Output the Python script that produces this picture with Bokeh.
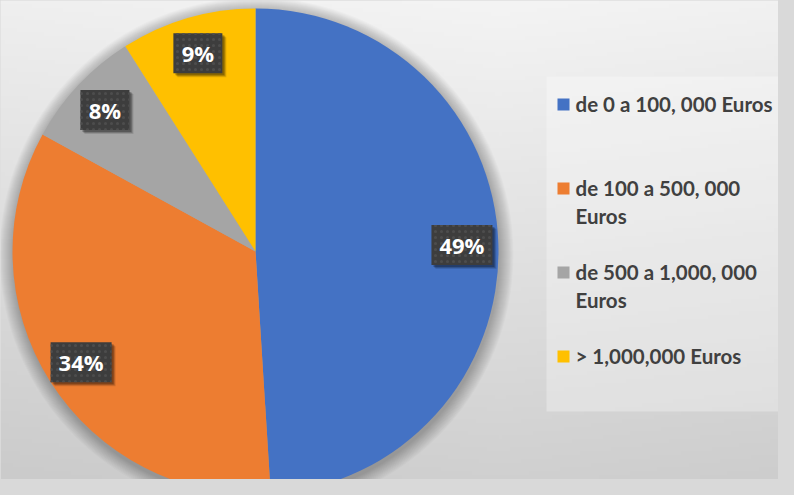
import math
import textwrap
import numpy as np
from bokeh.plotting import figure
from bokeh.models import Range1d, ColumnDataSource
from bokeh.core.properties import value
from bokeh.embed import file_html
from bokeh.resources import INLINE

# ---- data ----
categories = ["de 0 a 100, 000 Euros", "de 100 a 500, 000 Euros",
              "de 500 a 1,000, 000 Euros", "> 1,000,000 Euros"]
shares = [49, 34, 8, 9]
colors = ["#4472C4", "#ED7D31", "#A5A5A5", "#FFC000"]

W, H = 778, 479

def fx(X):
    return X

def fy(Y):
    return H - Y

p = figure(width=W, height=H, x_range=Range1d(0, W), y_range=Range1d(0, H),
           output_backend="svg", toolbar_location=None, min_border=0,
           x_axis_location=None, y_axis_location=None)
p.grid.visible = False
p.outline_line_color = None
p.background_fill_color = "#e6e6e6"
p.border_fill_color = "#e6e6e6"

# ---- background gradient ----
gh, gw = 120, 200
ys = np.linspace(0, 495, gh)[:, None]
xs = np.linspace(0, 778, gw)[None, :]
v = 244 - 36 * (ys / 495) - 5 * np.abs(xs - 500) / 500
v = np.clip(v, 0, 255).astype(np.uint8)
img = np.zeros((gh, gw), dtype=np.uint32)
view = img.view(dtype=np.uint8).reshape((gh, gw, 4))
view[:, :, 0] = v
view[:, :, 1] = v
view[:, :, 2] = v
view[:, :, 3] = 255
img = img[::-1]
p.image_rgba(image=[img], x=0, y=0, dw=W, dh=H)

# ---- pie ----
cx, cy, R = fx(255), fy(251), 243
for k in range(14):
    p.circle(x=cx + 1, y=cy - 3, radius=R + 14 - k, fill_color="black",
             fill_alpha=0.018, line_color=None)

total = sum(shares)
starts, ends, mids = [], [], []
acc = 0.0
for s in shares:
    a0 = math.pi / 2 - 2 * math.pi * acc / total
    acc += s
    a1 = math.pi / 2 - 2 * math.pi * acc / total
    starts.append(a0)
    ends.append(a1)
    mids.append((a0 + a1) / 2)

src = ColumnDataSource(dict(start=starts, end=ends, color=colors))
p.wedge(x=cx, y=cy, radius=R, start_angle="start", end_angle="end",
        direction="clock", fill_color="color", line_color=None, source=src)

# ---- data labels ----
lab_r = 0.85 * R
lx = [cx + lab_r * math.cos(m) for m in mids]
ly = [cy + lab_r * math.sin(m) for m in mids]
labels = [f"{s}%" for s in shares]
bw = [12 * len(t) + 25 for t in labels]
for dx, dy, al in [(4, -4, 0.12), (3, -3, 0.18), (2, -2, 0.25)]:
    p.rect(x=[x + dx for x in lx], y=[y + dy for y in ly], width=bw, height=40,
           fill_color="black", fill_alpha=al, line_color=None)
p.rect(x=lx, y=ly, width=bw, height=40, fill_color="#3d3d3d", line_color=None,
       hatch_pattern="dot", hatch_color="#4d4d4d", hatch_scale=6, hatch_weight=1)
p.text(x=lx, y=ly, text=labels, text_color="white", text_font=value("Open Sans"),
       text_font_style="bold", text_font_size="22px", text_align="center",
       text_baseline="middle")

# ---- legend ----
p.quad(left=fx(546), right=W + 5, top=fy(76), bottom=fy(411),
       fill_color="white", fill_alpha=0.3, line_color=None)
item_y0, item_step, line_step = 103, 84, 28
sq_x = fx(563)
txt_x = fx(575)
sqy, tx, ty, tt = [], [], [], []
for i, cat in enumerate(categories):
    yy = item_y0 + item_step * i
    sqy.append(fy(yy + 1))
    for j, line in enumerate(textwrap.wrap(cat, width=21)):
        tx.append(txt_x)
        ty.append(fy(yy + j * line_step))
        tt.append(line)
p.rect(x=[sq_x] * len(sqy), y=sqy, width=12, height=12, fill_color=colors,
       line_color=None)
p.text(x=tx, y=ty, text=tt, text_color="#404040", text_font=value("Lato"),
       text_font_style="bold", text_font_size="20.5px", text_align="left",
       text_baseline="middle")

html = file_html(p, INLINE)
html = html.replace("</head>", "<style>html, body { background: #d9d9d9; }</style></head>", 1)
open("out.html", "w").write(html)
